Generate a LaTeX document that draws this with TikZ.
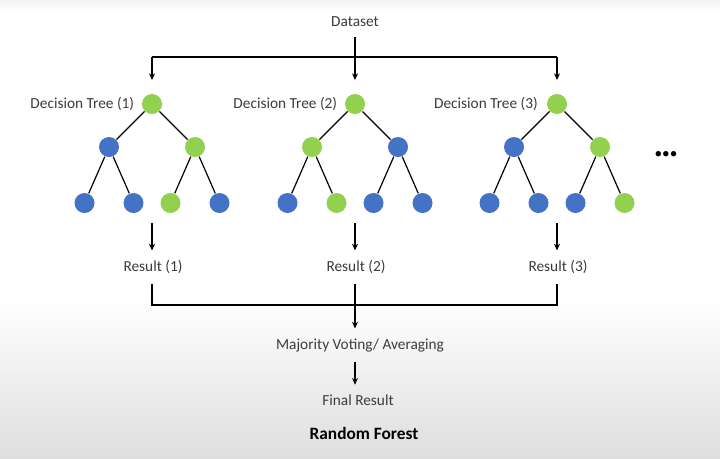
\documentclass[tikz,border=0pt]{standalone}
\usepackage{fontspec}
\setmainfont{Carlito}
\usetikzlibrary{arrows.meta,positioning}
\definecolor{leafgreen}{HTML}{92D050}
\definecolor{leafblue}{HTML}{4472C4}
\definecolor{txtgray}{HTML}{3C3C3C}
\tikzset{
gn/.style={shape=circle, fill=leafgreen, minimum size=15pt, inner sep=0pt},
bn/.style={shape=circle, fill=leafblue, minimum size=15pt, inner sep=0pt},
lbl/.style={text=txtgray, font=\fontsize{11.5}{13}\selectfont, inner xsep=0pt, inner ysep=7pt},
arr/.style={-{Stealth[length=5pt,width=4.5pt]}, line width=0.9pt}
}

\begin{document}
\begin{tikzpicture}[x=0.75pt, y=0.75pt, line width=0.9pt,
  level 1/.style={sibling distance=64.5pt, level distance=32.25pt},
  level 2/.style={sibling distance=36.75pt, level distance=42pt},
  edge from parent/.style={draw, line width=0.9pt}]
\useasboundingbox (0,0) rectangle (720,-458);
% background
\fill[white] (0,0) rectangle (720,-458);
\shade[top color=black!5, bottom color=white] (0,0) rectangle (720,-10);
\shade[top color=white, bottom color=black!13] (0,-300) rectangle (720,-458);

\node[lbl] (ds) at (355,-22) {Dataset};

% the three trees
\node[gn] (r1) at (152,-104) {}
   child { node[bn] (r1a) {}
      child { node[bn] (r1aa) {} }
      child { node[bn] (r1ab) {} }
   }
   child { node[gn] (r1b) {}
      child { node[gn] (r1ba) {} }
      child { node[bn] (r1bb) {} }
   };
\node[gn] (r2) at (355,-104) {}
   child { node[gn] (r2a) {}
      child { node[bn] (r2aa) {} }
      child { node[gn] (r2ab) {} }
   }
   child { node[bn] (r2b) {}
      child { node[bn] (r2ba) {} }
      child { node[bn] (r2bb) {} }
   };
\node[gn] (r3) at (557,-104) {}
   child { node[bn] (r3a) {}
      child { node[bn] (r3aa) {} }
      child { node[bn] (r3ab) {} }
   }
   child { node[gn] (r3b) {}
      child { node[bn] (r3ba) {} }
      child { node[gn] (r3bb) {} }
   };
\node[lbl, inner ysep=0pt, left=5pt of r1] (t1) {Decision Tree (1)};
\node[lbl, inner ysep=0pt, left=5pt of r2] (t2) {Decision Tree (2)};
\node[lbl, inner ysep=0pt, left=6pt of r3] (t3) {Decision Tree (3)};
\node[lbl, inner ysep=0pt, text=black] (more) at (666,-155) {\textbullet\textbullet\textbullet};

% dataset to trees
\coordinate (in1) at (152,-80);
\coordinate (in2) at (355,-80);
\coordinate (in3) at (557,-80);
\coordinate (bar) at (0,-57);
\draw (in1 |- bar) -- (in3 |- bar);
\draw[arr] (in1 |- bar) -- (in1);
\draw[arr] (in3 |- bar) -- (in3);
\draw[arr] (ds) -- (in2);

% results
\node[lbl] (res1) at (153,-267) {Result (1)};
\node[lbl] (res2) at (356,-267) {Result (2)};
\node[lbl] (res3) at (558,-267) {Result (3)};
\coordinate (out1) at (152,-223);
\coordinate (out2) at (355,-223);
\coordinate (out3) at (557,-223);
\draw[arr] (out1) -- (out1 |- res1.north);
\draw[arr] (out2) -- (out2 |- res2.north);
\draw[arr] (out3) -- (out3 |- res3.north);

% voting
\node[lbl] (vote) at (360,-345) {Majority Voting/ Averaging};
\node[lbl] (final) at (358,-400) {Final Result};
\node[lbl, text=black, font=\fontsize{13}{15}\selectfont\bfseries] (title) at (364,-433) {Random Forest};
\coordinate (bar2) at (0,-305);
\draw (out1 |- res1.south) -- (out1 |- bar2) -- (out3 |- bar2) -- (out3 |- res3.south);
\draw[arr] (out2 |- res2.south) -- (out2 |- vote.north);
\draw[arr] (out2 |- vote.south) -- (out2 |- final.north);
\end{tikzpicture}
\end{document}
